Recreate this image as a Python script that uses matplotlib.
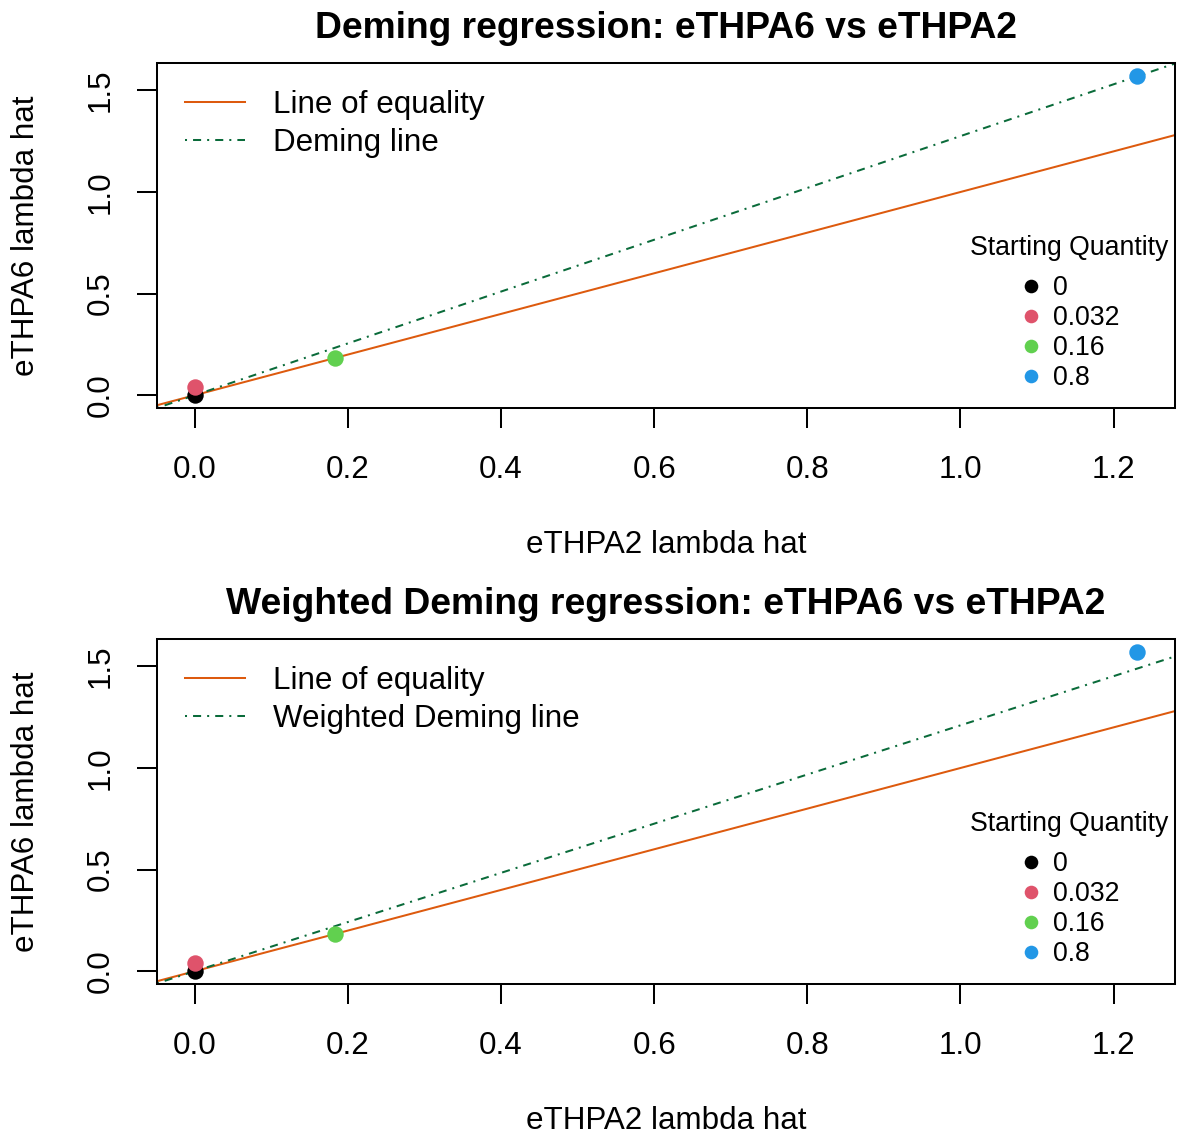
import matplotlib
matplotlib.use("Agg")
import matplotlib.pyplot as plt
from matplotlib.lines import Line2D

plt.rcParams['font.family'] = ['Liberation Sans', 'DejaVu Sans']

# data
qty_labels = ["0", "0.032", "0.16", "0.8"]
qty_colors = ["black", "#DF536B", "#61D04F", "#2297E6"]
x_hat = [0.0, 0.0, 0.183, 1.231]      # eTHPA2 lambda hat
y_hat = [0.0, 0.039, 0.182, 1.572]    # eTHPA6 lambda hat

titles = ["Deming regression: eTHPA6 vs eTHPA2",
          "Weighted Deming regression: eTHPA6 vs eTHPA2"]
fit_names = ["Deming line", "Weighted Deming line"]
fit_intercept = [0.0, 0.0]
fit_slope = [1.275, 1.21]

xticks = [0.0, 0.2, 0.4, 0.6, 0.8, 1.0, 1.2]
yticks = [0.0, 0.5, 1.0, 1.5]

orange = "#DD5A0E"
dkgreen = "#0A6B3A"
base = 22.6
small = 19.2
lw = 1.45

fig = plt.figure(figsize=(11.77, 11.34), dpi=100)
W, H = 1177, 1134
boxes = [(157, 63, 1175, 408), (157, 639, 1175, 984)]

for i, (l, t, r, b) in enumerate(boxes):
    ax = fig.add_axes([l / W, 1 - b / H, (r - l) / W, (b - t) / H])
    xr = max(x_hat) - min(x_hat)
    yr = max(y_hat) - min(y_hat)
    x0, x1 = min(x_hat) - 0.04 * xr, max(x_hat) + 0.04 * xr
    y0, y1 = min(y_hat) - 0.04 * yr, max(y_hat) + 0.04 * yr
    ax.set_xlim(x0, x1)
    ax.set_ylim(y0, y1)

    for xv, yv, c in zip(x_hat, y_hat, qty_colors):
        ax.scatter([xv], [yv], s=140, color=c, zorder=3, linewidths=0)

    ax.axline((0, 0), slope=1, color=orange, lw=lw, zorder=2)
    ax.axline((0, fit_intercept[i]), slope=fit_slope[i], color=dkgreen, lw=lw,
              dashes=(1, 3, 4, 3), zorder=2)

    ax.set_xticks(xticks)
    ax.set_xticklabels([f"{v:.1f}" for v in xticks])
    ax.set_yticks(yticks)
    ax.set_yticklabels([f"{v:.1f}" for v in yticks], rotation=90, va="center")
    ax.tick_params(axis="both", direction="out", length=14.4, width=lw,
                   labelsize=base)
    ax.tick_params(axis="x", pad=19.5)
    ax.tick_params(axis="y", pad=15.2)
    for s in ax.spines.values():
        s.set_linewidth(lw)

    ax.set_xlabel("eTHPA2 lambda hat", fontsize=base, labelpad=32)
    ax.set_ylabel("eTHPA6 lambda hat", fontsize=base, labelpad=32.5)
    ax.set_title(titles[i], fontsize=26.8, fontweight="bold", pad=18)

    h1 = [Line2D([], [], color=orange, lw=lw),
          Line2D([], [], color=dkgreen, lw=lw, dashes=(1, 3, 4, 3))]
    leg1 = ax.legend(h1, ["Line of equality", fit_names[i]], loc="upper left",
                     bbox_to_anchor=((185 - 157) / 1018, 1 - (90 - 63) / 345),
                     frameon=False, fontsize=base, handlelength=1.9,
                     handletextpad=0.9, borderpad=0, borderaxespad=0,
                     labelspacing=0.26)
    ax.add_artist(leg1)

    h2 = [Line2D([], [], ls="none", marker="o", ms=9.8, color=c, mew=0)
          for c in qty_colors]
    ax.legend(h2, qty_labels, loc="upper left",
              bbox_to_anchor=((1022.5 - 157) / 1018, 1 - (275 - 63) / 345),
              frameon=False, fontsize=small, handlelength=0.6,
              handletextpad=0.54, borderpad=0, borderaxespad=0,
              labelspacing=0.15)
    ax.text((1069 - 157) / 1018, 1 - (248 - 63) / 345, "Starting Quantity",
            transform=ax.transAxes, ha="center", va="center", fontsize=small)

fig.savefig("out.png", dpi=100)
